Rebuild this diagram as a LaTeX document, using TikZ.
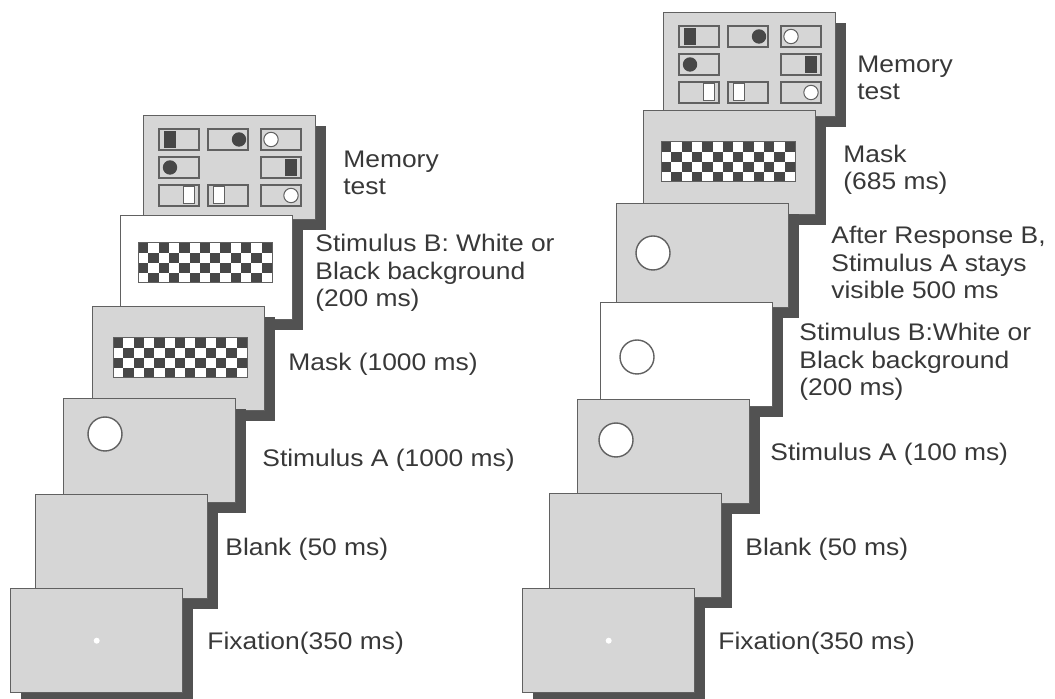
\documentclass[tikz,border=0pt]{standalone}
\usepackage{fontspec}
\setmainfont{Liberation Sans}
\newfontfamily\lblfont{Liberation Sans}[FakeStretch=1.1]
\usetikzlibrary{shadows}
\tikzset{
  scrbox/.style={rectangle, draw=black!62, line width=0.7pt, fill=black!16, minimum width=86pt, minimum height=52pt, inner sep=0pt, anchor=north west,
    drop shadow={shadow xshift=5pt, shadow yshift=-5pt, fill=black!68, opacity=1}},
  whitebox/.style={scrbox, fill=white},
  itembox/.style={draw=black!62, line width=0.6pt, fill=black!16},
  darkitem/.style={fill=black!72},
  lightitem/.style={fill=white, draw=black!62, line width=0.5pt},
  stimcirc/.style={circle, draw=black!62, line width=0.7pt, fill=white, minimum size=17pt, inner sep=0pt},
  fixdot/.style={circle, fill=white, minimum size=3pt, inner sep=0pt},
  lbl/.style={anchor=base west, align=left, inner sep=0pt, text=black!78, font=\lblfont\fontsize{12}{13.75}\selectfont},
}
% items of the memory test display
\newcommand\memitems[2]{%
  \begin{scope}[shift={(#1,#2)}]
    \foreach \bx/\by in {16/14,65/14,118/14,16/42,118/42,16/70,65/70,118/70}
      \draw[itembox] (\bx,\by) rectangle ++(40,21);
    \fill[darkitem] (21,16) rectangle ++(12,17);
    \fill[darkitem] (96,24.5) circle[radius=3.6pt];
    \draw[lightitem] (128,24.5) circle[radius=3.6pt];
    \fill[darkitem] (27,52.5) circle[radius=3.6pt];
    \fill[darkitem] (142,44) rectangle ++(12,17);
    \draw[lightitem] (40,72) rectangle ++(11,17);
    \draw[lightitem] (70,72) rectangle ++(11,17);
    \draw[lightitem] (148,80.5) circle[radius=3.6pt];
  \end{scope}}
% checkerboard mask
\newcommand\chkboard[2]{%
  \begin{scope}[shift={(#1,#2)}]
    \fill[white] (0,0) rectangle (134,40);
    \foreach \i in {0,...,12}{\foreach \j in {0,...,3}{%
      \pgfmathtruncatemacro\sq{mod(\i+\j,2)}%
      \ifnum\sq=0 \fill[black!72] ({\i*10.3},{\j*10}) rectangle ++(10.3,10);\fi}}
    \draw[black!62, line width=0.5pt] (0,0) rectangle (134,40);
  \end{scope}}

\begin{document}
\begin{tikzpicture}[x=0.5pt, y=-0.5pt]
\useasboundingbox (0,0) rectangle (1055,699);
% left sequence, back to front
\node[scrbox] (lmem) at (143,115) {};
\memitems{143}{115}
\node[whitebox] (lstimb) at (120,215) {};
\chkboard{138}{243}
\node[scrbox] (lmask) at (92,306) {};
\chkboard{113}{338}
\node[scrbox] (lstima) at (63,398) {};
\node[stimcirc] (lcirca) at (105,434) {};
\node[scrbox] (lblank) at (35,494) {};
\node[scrbox] (lfix) at (10,588) {};
\node[fixdot] (ldot) at (lfix.center) {};

% right sequence, back to front
\node[scrbox] (rmem) at (663,12) {};
\memitems{663}{12}
\node[scrbox] (rmask) at (643,110) {};
\chkboard{661}{142}
\node[scrbox] (rafter) at (616,203) {};
\node[stimcirc] (rcircc) at (653,253) {};
\node[whitebox] (rstimb) at (600,302) {};
\node[stimcirc] (rcircb) at (637,357) {};
\node[scrbox] (rstima) at (577,399) {};
\node[stimcirc] (rcirca) at (616,440) {};
\node[scrbox] (rblank) at (549,493) {};
\node[scrbox] (rfix) at (522,588) {};
\node[fixdot] (rdot) at (rfix.center) {};

% labels (base = last line)
\node[lbl] (lmemlab) at (343,195) {Memory\\test};
\node[lbl] (lstimblab) at (315,307) {Stimulus B: White or\\Black background\\(200 ms)};
\node[lbl] (lmasklab) at (288,371) {Mask (1000 ms)};
\node[lbl] (lstimalab) at (262,467) {Stimulus A (1000 ms)};
\node[lbl] (lblanklab) at (225,556) {Blank (50 ms)};
\node[lbl] (lfixlab) at (207,650) {Fixation(350 ms)};
\node[lbl] (rmemlab) at (857,100) {Memory\\test};
\node[lbl] (rmasklab) at (843,190) {Mask\\(685 ms)};
\node[lbl] (rafterlab) at (831,299) {After Response B,\\Stimulus A stays\\visible 500 ms};
\node[lbl] (rstimblab) at (799,396) {Stimulus B:White or\\Black background\\(200 ms)};
\node[lbl] (rstimalab) at (770,461) {Stimulus A (100 ms)};
\node[lbl] (rblanklab) at (745,556) {Blank (50 ms)};
\node[lbl] (rfixlab) at (718,650) {Fixation(350 ms)};
\end{tikzpicture}
\end{document}
